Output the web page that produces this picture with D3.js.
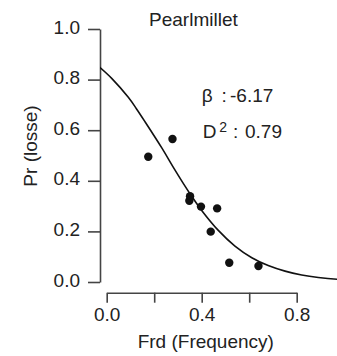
<!DOCTYPE html>
<html>
<head>
<meta charset="utf-8">
<script src="https://cdn.jsdelivr.net/npm/d3@7"></script>
<style>
html,body{margin:0;padding:0;background:#fff;}
svg{display:block;}
text{font-family:"Liberation Sans",Arial,Helvetica,sans-serif;fill:#222;}
</style>
</head>
<body>
<svg id="chart" width="337" height="356"></svg>
<script>
// observed points
const frdValues = [0.175, 0.277, 0.351, 0.348, 0.397, 0.465, 0.438, 0.516, 0.639];
const prValues  = [0.495, 0.565, 0.339, 0.321, 0.298, 0.291, 0.199, 0.076, 0.063];
// fitted curve
const curveX = [-0.032, 0.021, 0.091, 0.125, 0.161, 0.232, 0.280, 0.323, 0.360, 0.400, 0.470, 0.540, 0.611, 0.680, 0.751, 0.821, 0.891, 0.970, 1.000];
const curveY = [0.851, 0.805, 0.730, 0.685, 0.634, 0.530, 0.454, 0.389, 0.336, 0.283, 0.204, 0.142, 0.096, 0.065, 0.043, 0.028, 0.018, 0.011, 0.010];
const xTicks = [0.0, 0.2, 0.4, 0.6, 0.8];
const xTickLabels = ["0.0", "", "0.4", "", "0.8"];
const yTicks = [0.0, 0.2, 0.4, 0.6, 0.8, 1.0];
const yTickLabels = ["0.0", "0.2", "0.4", "0.6", "0.8", "1.0"];
const title = "Pearlmillet";
const xLabel = "Frd (Frequency)";
const yLabel = "Pr (losse)";
const betaText = "-6.17";
const d2Text = "0.79";

const svg = d3.select("#chart");
const x = d3.scaleLinear().domain([0, 0.8]).range([106.7, 296.7]);
const y = d3.scaleLinear().domain([0, 1]).range([282, 29]);
const axisColor = "#444";
const fs = 19;

// y axis
const yAxis = svg.append("g").attr("transform", `translate(${x(0)-6.7},0)`)
  .call(d3.axisLeft(y).tickValues(yTicks).tickSize(12).tickSizeOuter(0)
        .tickFormat((d,i)=>yTickLabels[i]).tickPadding(8));
yAxis.select(".domain").attr("stroke", axisColor).attr("stroke-width", 1.6);
yAxis.selectAll(".tick line").attr("stroke", axisColor).attr("stroke-width", 1.6);
yAxis.selectAll(".tick text").attr("font-size", fs).attr("fill", "#222")
  .attr("font-family", '"Liberation Sans",Arial,sans-serif').attr("dy", "0.22em");

// x axis
const xAxis = svg.append("g").attr("transform", `translate(0,292.7)`)
  .call(d3.axisBottom(x).tickValues(xTicks).tickSize(10).tickSizeOuter(0)
        .tickFormat((d,i)=>xTickLabels[i]).tickPadding(5));
xAxis.select(".domain").attr("stroke", axisColor).attr("stroke-width", 1.6);
xAxis.selectAll(".tick line").attr("stroke", axisColor).attr("stroke-width", 1.6);
xAxis.selectAll(".tick text").attr("font-size", fs).attr("fill", "#222")
  .attr("font-family", '"Liberation Sans",Arial,sans-serif');

// clip
svg.append("clipPath").attr("id", "clip").append("rect")
  .attr("x", x(0)-6.7).attr("y", 0).attr("width", 337).attr("height", 356);

// curve
const line = d3.line().x(d=>x(d[0])).y(d=>y(d[1])).curve(d3.curveCatmullRom);
svg.append("path").datum(curveX.map((v,i)=>[v, curveY[i]]))
  .attr("d", line).attr("fill", "none").attr("stroke", "#111").attr("stroke-width", 1.6)
  .attr("clip-path", "url(#clip)");

// points
svg.append("g").selectAll("circle").data(frdValues.map((v,i)=>[v, prValues[i]]))
  .join("circle").attr("cx", d=>x(d[0])).attr("cy", d=>y(d[1])).attr("r", 4.2).attr("fill", "#111");

// title
svg.append("text").attr("x", 193.4).attr("y", 25.7).attr("text-anchor", "middle")
  .attr("font-size", fs).text(title);

// axis labels
svg.append("text").attr("x", 205.8).attr("y", 348.3).attr("text-anchor", "middle")
  .attr("font-size", fs).text(xLabel);
svg.append("text").attr("transform", "translate(37,146) rotate(-90)").attr("text-anchor", "middle")
  .attr("font-size", fs).text(yLabel);

// annotations
svg.append("text").attr("x", 201.7).attr("y", 101.7).attr("font-size", fs).text("β");
svg.append("text").attr("x", 221.5).attr("y", 101.7).attr("font-size", fs).text(":");
svg.append("text").attr("x", 230).attr("y", 101.7).attr("font-size", fs).text(betaText);
svg.append("text").attr("x", 202.7).attr("y", 138.3).attr("font-size", fs).text("D");
svg.append("text").attr("x", 219.3).attr("y", 131.7).attr("font-size", 14).text("2");
svg.append("text").attr("x", 233).attr("y", 138.3).attr("font-size", fs).text(":");
svg.append("text").attr("x", 245).attr("y", 138.3).attr("font-size", fs).text(d2Text);
</script>
</body>
</html>
